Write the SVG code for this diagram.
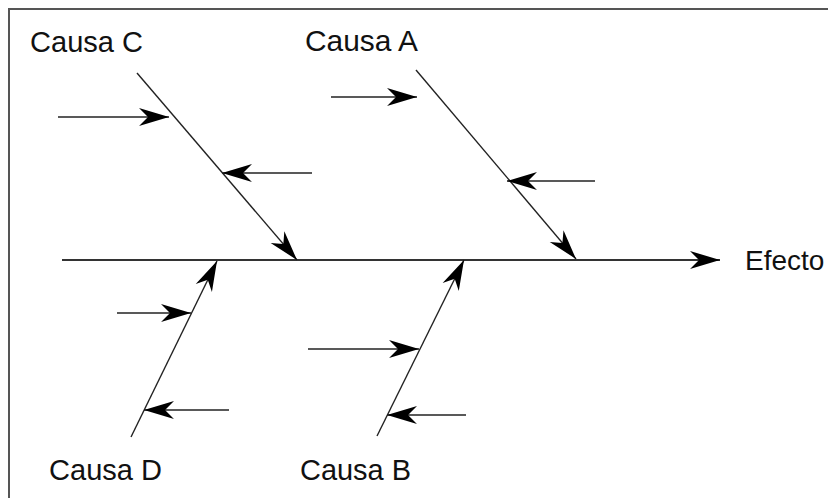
<svg xmlns="http://www.w3.org/2000/svg" width="828" height="498" viewBox="0 0 828 498">
<style>
.lbl{font-family:"Liberation Sans",Arial,sans-serif;font-size:30px;fill:#111}
.ln{stroke:#222;stroke-width:1.4;fill:none}
.spine{stroke:#333;stroke-width:2;fill:none}
.frame{stroke:#555;stroke-width:2;fill:none}
</style>
<defs>
<marker id="ah" markerUnits="userSpaceOnUse" viewBox="-31 -10 32 20" refX="0" refY="0" markerWidth="32" markerHeight="20" orient="auto">
<path d="M0,0 L-30,-9 L-21,0 L-30,9 Z" fill="#000"/>
</marker>
</defs>
<rect width="828" height="498" fill="#fff"/>
<path class="frame" d="M9,498 V9 H828"/>
<g id="connectors">
<line class="spine" x1="62" y1="260" x2="720" y2="260" marker-end="url(#ah)"/>
<line class="ln" x1="137" y1="73" x2="297" y2="260" marker-end="url(#ah)"/>
<line class="ln" x1="58" y1="117" x2="169" y2="117" marker-end="url(#ah)"/>
<line class="ln" x1="312" y1="173" x2="222" y2="173" marker-end="url(#ah)"/>
<line class="ln" x1="416" y1="70" x2="576" y2="259" marker-end="url(#ah)"/>
<line class="ln" x1="331" y1="97" x2="417" y2="97" marker-end="url(#ah)"/>
<line class="ln" x1="595" y1="181" x2="507" y2="181" marker-end="url(#ah)"/>
<line class="ln" x1="131" y1="437" x2="217" y2="261" marker-end="url(#ah)"/>
<line class="ln" x1="117" y1="313" x2="191" y2="313" marker-end="url(#ah)"/>
<line class="ln" x1="229" y1="410" x2="144" y2="410" marker-end="url(#ah)"/>
<line class="ln" x1="377" y1="436" x2="464" y2="260" marker-end="url(#ah)"/>
<line class="ln" x1="308" y1="349" x2="419" y2="349" marker-end="url(#ah)"/>
<line class="ln" x1="466" y1="415" x2="387" y2="415" marker-end="url(#ah)"/>
</g>
<g id="causa-c"><text class="lbl" x="30" y="52" textLength="113" lengthAdjust="spacingAndGlyphs">Causa C</text></g>
<g id="causa-a"><text class="lbl" x="305" y="51" textLength="113" lengthAdjust="spacingAndGlyphs">Causa A</text></g>
<g id="causa-d"><text class="lbl" x="49" y="480" textLength="113" lengthAdjust="spacingAndGlyphs">Causa D</text></g>
<g id="causa-b"><text class="lbl" x="300" y="480" textLength="111" lengthAdjust="spacingAndGlyphs">Causa B</text></g>
<g id="efecto"><text class="lbl" x="745" y="270" style="font-size:28px">Efecto</text></g>
</svg>
